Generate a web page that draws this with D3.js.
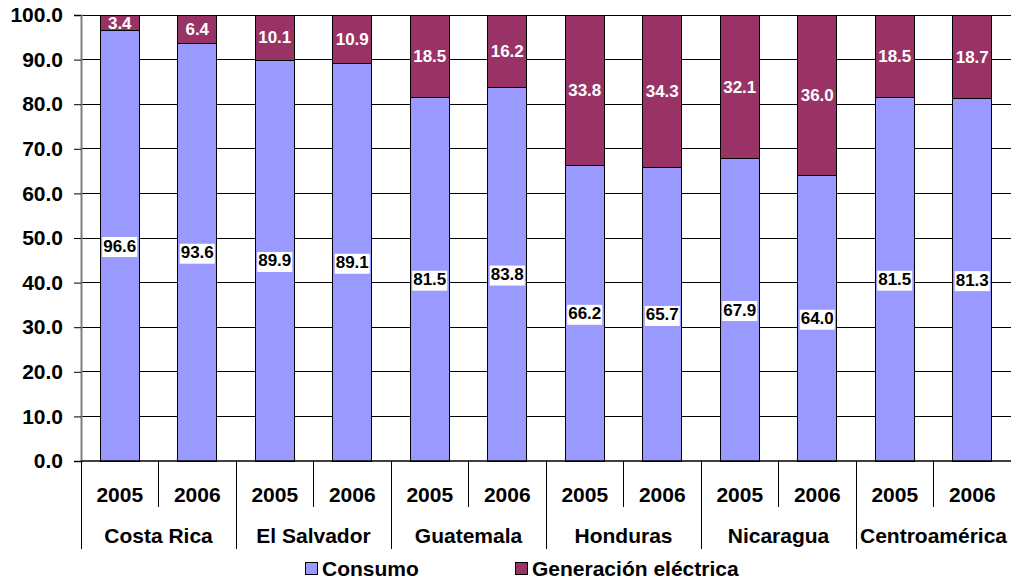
<!DOCTYPE html>
<html>
<head>
<meta charset="utf-8">
<script src="https://cdn.jsdelivr.net/npm/d3@7"></script>
<style>
  html, body { margin: 0; padding: 0; background: #fff; }
  svg { display: block; }
  svg text { font-family: Arial, "Liberation Sans", sans-serif; font-weight: 700; }
</style>
</head>
<body>
<svg id="chart" width="1011" height="580"></svg>
<script>
// Countries and years along the two-level category axis
const countries = ["Costa Rica", "El Salvador", "Guatemala", "Honduras", "Nicaragua", "Centroamérica"];
const years = ["2005", "2006"];
// Shares (%) per country-year, in the order above
const consumo = [96.6, 93.6, 89.9, 89.1, 81.5, 83.8, 66.2, 65.7, 67.9, 64.0, 81.5, 81.3];
const generacion = [3.4, 6.4, 10.1, 10.9, 18.5, 16.2, 33.8, 34.3, 32.1, 36.0, 18.5, 18.7];
const seriesNames = ["Consumo", "Generación eléctrica"];
const yTicks = [0, 10, 20, 30, 40, 50, 60, 70, 80, 90, 100];

const colors = { "Consumo": "#9999ff", "Generación eléctrica": "#993366" };

const svg = d3.select("#chart");
const plotLeft = 81, plotRight = 1011, plotTop = 15, plotBottom = 461;
const axisFont = 21, valueFont = 17;

const rows = [];
countries.forEach((c, i) => years.forEach((yr, j) => {
  const k = i * 2 + j;
  rows.push({ key: c + "|" + yr, country: c, year: yr, Consumo: consumo[k], "Generación eléctrica": generacion[k] });
}));

const x = d3.scaleBand().domain(rows.map(d => d.key)).range([plotLeft, plotRight]).paddingInner(0.5).paddingOuter(0.25);
const y = d3.scaleLinear().domain([0, 100]).range([plotBottom, plotTop]);

// Horizontal gridlines
svg.append("g").selectAll("line").data(yTicks.filter(t => t > 0)).join("line")
  .attr("x1", plotLeft).attr("x2", plotRight)
  .attr("y1", d => y(d)).attr("y2", d => y(d))
  .attr("stroke", "#000").attr("stroke-width", 1).attr("shape-rendering", "crispEdges");

// Y axis
const yAxis = svg.append("g").attr("transform", `translate(${plotLeft},0)`)
  .call(d3.axisLeft(y).tickValues(yTicks).tickFormat(d3.format(".1f")).tickSize(7).tickPadding(11));
yAxis.select(".domain").attr("stroke", "#808080").attr("stroke-width", 2);
yAxis.selectAll(".tick line").attr("stroke", "#000");
yAxis.selectAll("text").attr("font-size", axisFont).attr("font-weight", 700)
  .attr("font-family", "Arial, 'Liberation Sans', sans-serif").attr("fill", "#000");

// Stacked bars
const stack = d3.stack().keys(seriesNames)(rows);
const layers = svg.append("g").selectAll("g").data(stack).join("g")
  .attr("fill", d => colors[d.key]);
layers.selectAll("rect").data(d => d).join("rect")
  .attr("x", d => x(d.data.key))
  .attr("width", x.bandwidth())
  .attr("y", d => y(d[1]))
  .attr("height", d => y(d[0]) - y(d[1]))
  .attr("stroke", "#000").attr("stroke-width", 1).attr("shape-rendering", "crispEdges");

// Zero baseline
svg.append("line").attr("x1", plotLeft).attr("x2", plotRight).attr("y1", y(0)).attr("y2", y(0))
  .attr("stroke", "#000").attr("stroke-width", 1.5);

// Value labels: consumption on a white box, generation in white text
const consLabels = svg.append("g");
rows.forEach(d => {
  const cx = x(d.key) + x.bandwidth() / 2;
  const cy = y(d.Consumo / 2);
  const g = consLabels.append("g");
  const t = g.append("text").attr("x", cx).attr("y", cy).attr("dy", "0.35em")
    .attr("text-anchor", "middle").attr("font-size", valueFont).attr("fill", "#000")
    .text(d.Consumo.toFixed(1));
  const bb = t.node().getBBox();
  g.insert("rect", "text").attr("x", bb.x - 1).attr("y", bb.y + 0.5)
    .attr("width", bb.width + 2).attr("height", bb.height + 1).attr("fill", "#fff");
});
svg.append("g").selectAll("text").data(rows).join("text")
  .attr("x", d => x(d.key) + x.bandwidth() / 2)
  .attr("y", d => y(100 - d["Generación eléctrica"] / 2))
  .attr("dy", "0.35em").attr("text-anchor", "middle")
  .attr("font-size", valueFont).attr("fill", "#fff")
  .text(d => d["Generación eléctrica"].toFixed(1));

// Two-level category axis
const step = x.step();
const axisG = svg.append("g");
rows.forEach((d, k) => {
  const x0 = plotLeft + k * step;
  axisG.append("line").attr("x1", x0).attr("x2", x0).attr("y1", plotBottom)
    .attr("y2", k % 2 === 0 ? 549 : 507).attr("stroke", "#000").attr("stroke-width", 1)
    .attr("shape-rendering", "crispEdges");
  axisG.append("text").attr("x", x(d.key) + x.bandwidth() / 2).attr("y", 502)
    .attr("text-anchor", "middle").attr("font-size", axisFont).attr("fill", "#000").text(d.year);
});
countries.forEach((c, i) => {
  axisG.append("text").attr("x", plotLeft + (i * 2 + 1) * step).attr("y", 543)
    .attr("text-anchor", "middle").attr("font-size", axisFont).attr("fill", "#000").text(c);
});

// Legend
const legend = svg.append("g");
const legendX = [305, 515];
seriesNames.forEach((s, i) => {
  legend.append("rect").attr("x", legendX[i] + 0.5).attr("y", 562.5).attr("width", 12).attr("height", 12)
    .attr("fill", colors[s]).attr("stroke", "#000").attr("stroke-width", 1);
  legend.append("text").attr("x", legendX[i] + 17).attr("y", 576)
    .attr("font-size", axisFont).attr("fill", "#000").text(s);
});
</script>
</body>
</html>
